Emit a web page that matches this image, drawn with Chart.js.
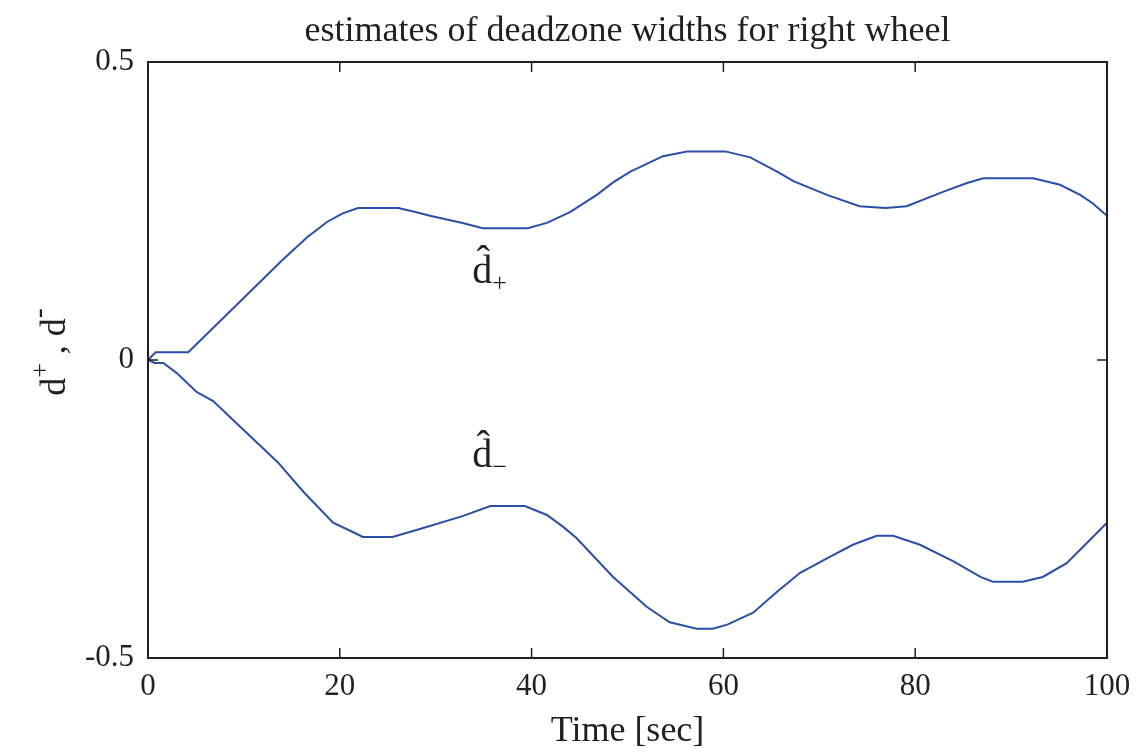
<!DOCTYPE html>
<html>
<head>
<meta charset="utf-8">
<script src="https://cdn.jsdelivr.net/npm/chart.js@4/dist/chart.umd.min.js"></script>
<style>
  html, body { margin: 0; padding: 0; background: #fff; }
  #wrap { width: 1143px; height: 753px; }
</style>
</head>
<body>
<div id="wrap"><canvas id="deadzone"></canvas></div>
<script>
// time axis for each estimate (sec)
var timePlus = [0, 0.8, 4.2, 14.1, 16.6, 18.7, 20.3, 21.9, 26.1, 28, 29.4, 32.8, 34.9, 39.6, 41.6, 44, 46.8, 48.5, 50.3, 53.7, 56.2, 60.2, 62.8, 65.6, 67.3, 70.8, 74.2, 76.9, 79.1, 82.9, 85.4, 87.1, 92.3, 95.1, 97.2, 98.5, 100];
var dPlus = [0, 0.013, 0.013, 0.169, 0.206, 0.232, 0.246, 0.255, 0.255, 0.248, 0.242, 0.23, 0.221, 0.221, 0.23, 0.248, 0.277, 0.298, 0.316, 0.342, 0.35, 0.35, 0.34, 0.316, 0.3, 0.277, 0.258, 0.255, 0.258, 0.282, 0.297, 0.305, 0.305, 0.294, 0.277, 0.263, 0.242];

var timeMinus = [0, 0.7, 1.6, 3, 5.1, 6.8, 8.9, 13.5, 16.2, 19.3, 21.4, 22.4, 25.5, 28.7, 32.8, 35.7, 39.3, 41.6, 43.3, 44.7, 48.5, 52, 54.4, 57.2, 58.9, 60.4, 63.1, 65.6, 68, 70.8, 73.5, 76, 77.7, 80.5, 84, 86.8, 88.1, 91.2, 93.3, 95.8, 100];
var dMinus = [0, -0.005, -0.005, -0.022, -0.054, -0.069, -0.101, -0.171, -0.221, -0.273, -0.289, -0.297, -0.297, -0.282, -0.262, -0.245, -0.245, -0.26, -0.28, -0.299, -0.364, -0.414, -0.44, -0.451, -0.451, -0.444, -0.424, -0.389, -0.357, -0.333, -0.31, -0.295, -0.295, -0.31, -0.338, -0.364, -0.372, -0.372, -0.364, -0.341, -0.273];

// tick labels
var xTicks = [0, 20, 40, 60, 80, 100];
var yTicks = [-0.5, 0, 0.5];
var yTickLabels = ['-0.5', '0', '0.5'];

var serif = '"Liberation Serif", "DejaVu Serif", serif';
var lineColor = '#2b4ea6';
var axisColor = '#231f20';

function points(xs, ys) {
  return xs.map(function (x, i) { return { x: x, y: ys[i] }; });
}

// box, inward ticks, title, axis titles and curve labels
var decor = {
  id: 'decor',
  afterDatasetsDraw: function (chart) {
    var c = chart.ctx, a = chart.chartArea;
    var xs = chart.scales.x, ys = chart.scales.y;
    c.save();
    c.strokeStyle = axisColor;
    c.lineWidth = 2;
    c.strokeRect(a.left, a.top, a.right - a.left, a.bottom - a.top);
    c.lineWidth = 1.5;
    c.beginPath();
    xTicks.forEach(function (t) {
      var px = xs.getPixelForValue(t);
      c.moveTo(px, a.bottom); c.lineTo(px, a.bottom - 10);
      c.moveTo(px, a.top); c.lineTo(px, a.top + 10);
    });
    yTicks.forEach(function (t) {
      var py = ys.getPixelForValue(t);
      c.moveTo(a.left, py); c.lineTo(a.left + 10, py);
      c.moveTo(a.right, py); c.lineTo(a.right - 10, py);
    });
    c.stroke();

    c.fillStyle = axisColor;
    c.textAlign = 'center';
    c.textBaseline = 'alphabetic';
    c.font = '36px ' + serif;
    var cx = (a.left + a.right) / 2;
    c.fillText('estimates of deadzone widths for right wheel', cx, 41);
    c.fillText('Time [sec]', cx, 741);

    // y axis title: d+, d-
    c.save();
    c.translate(65, 352);
    c.rotate(-Math.PI / 2);
    c.textAlign = 'left';
    var parts = [['d', 36, 0], ['+', 26, -17], [' , d', 36, 0], ['-', 30, -17]];
    var total = 0;
    parts.forEach(function (p) { c.font = p[1] + 'px ' + serif; total += c.measureText(p[0]).width; });
    var x0 = -total / 2;
    parts.forEach(function (p) {
      c.font = p[1] + 'px ' + serif;
      c.fillText(p[0], x0, p[2]);
      x0 += c.measureText(p[0]).width;
    });
    c.restore();

    // curve labels
    function hatLabel(t, v, sub) {
      var px = xs.getPixelForValue(t), py = ys.getPixelForValue(v);
      c.textAlign = 'left';
      c.font = '40px ' + serif;
      c.fillText('d\u0302', px, py);
      var w = c.measureText('d').width;
      c.font = '26px ' + serif;
      c.fillText(sub, px + w, py + 8);
    }
    hatLabel(33.8, 0.13, '+');
    hatLabel(33.8, -0.18, '\u2212');
    c.restore();
  }
};

var ctx = document.getElementById('deadzone');
var chart = new Chart(ctx, {
  type: 'line',
  data: {
    datasets: [
      {
        data: points(timePlus, dPlus),
        label: 'd+',
        borderColor: lineColor,
        borderWidth: 2,
        pointRadius: 0,
        fill: false,
        tension: 0
      },
      {
        data: points(timeMinus, dMinus),
        label: 'd-',
        borderColor: lineColor,
        borderWidth: 2,
        pointRadius: 0,
        fill: false,
        tension: 0
      }
    ]
  },
  options: {
    responsive: true,
    maintainAspectRatio: false,
    animation: false,
    layout: { padding: { top: 62, right: 36, left: 0, bottom: 0 } },
    plugins: {
      legend: { display: false },
      tooltip: { enabled: false },
      title: { display: false }
    },
    scales: {
      x: {
        type: 'linear',
        min: 0,
        max: 100,
        grid: { display: false, drawTicks: false },
        border: { display: false },
        afterBuildTicks: function (s) { s.ticks = xTicks.map(function (v) { return { value: v }; }); },
        afterFit: function (s) { s.height = 95; },
        ticks: { color: axisColor, font: { family: serif, size: 31 }, padding: 10, maxRotation: 0 }
      },
      y: {
        type: 'linear',
        min: -0.5,
        max: 0.5,
        grid: { display: false, drawTicks: false },
        border: { display: false },
        afterBuildTicks: function (s) { s.ticks = yTicks.map(function (v) { return { value: v }; }); },
        afterFit: function (s) { s.width = 148; },
        ticks: {
          color: axisColor,
          font: { family: serif, size: 31 },
          padding: 14,
          callback: function (v) { return yTickLabels[yTicks.indexOf(v)]; }
        }
      }
    }
  },
  plugins: [decor]
});
</script>
</body>
</html>
